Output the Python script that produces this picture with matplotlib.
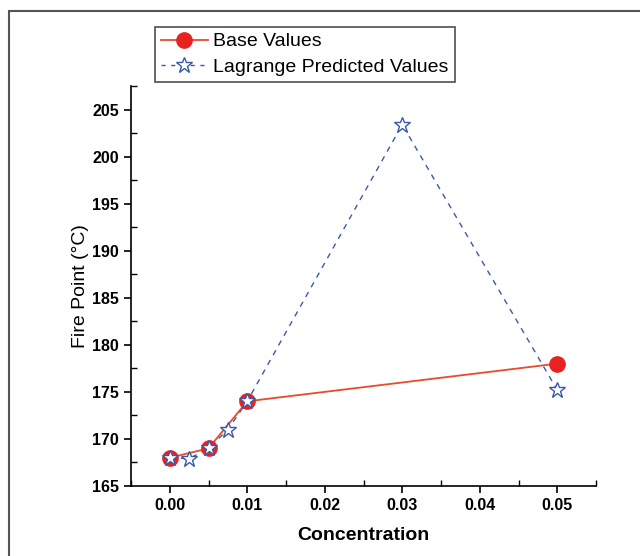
import matplotlib.pyplot as plt
from matplotlib.ticker import MultipleLocator
from matplotlib.patches import Rectangle
from matplotlib.lines import Line2D

# data
base_x = [0.0, 0.005, 0.01, 0.05]
base_y = [168, 169, 174, 178]
lag_x = [0.0, 0.0025, 0.005, 0.0075, 0.01, 0.03, 0.05]
lag_y = [168, 167.9, 169, 171, 174, 203.4, 175.2]

plt.rcParams['font.family'] = ['Liberation Sans', 'DejaVu Sans']

fig = plt.figure(figsize=(6.4, 5.56), dpi=100)
ax = fig.add_axes([131 / 640, 1 - 486 / 556, (596 - 131) / 640, (486 - 86) / 556])

# outer frame (top and left edges only visible)
fig.patches.append(Rectangle((9 / 640, -0.1), 1.2, 1 - 11 / 556 + 0.1,
                             transform=fig.transFigure, fill=False,
                             edgecolor='#555555', linewidth=1.5))

red = '#e8231f'
line_red = '#e84a2c'
blue = '#3a5aa8'

ax.plot(lag_x, lag_y, linestyle=(0, (4, 4)), color=blue, linewidth=1.0, zorder=2)
ax.plot(base_x, base_y, color=line_red, linewidth=1.3, zorder=3)
ax.plot(base_x, base_y, linestyle='none', marker='o', markersize=11,
        color=red, zorder=4)
ax.plot(lag_x, lag_y, linestyle='none', marker='*', markersize=12,
        markerfacecolor='white', markeredgecolor=blue, markeredgewidth=1.0,
        zorder=5)

ax.set_xlim(-0.005, 0.055)
ax.set_ylim(165, 207.5)
ax.xaxis.set_minor_locator(MultipleLocator(0.005))
ax.yaxis.set_major_locator(MultipleLocator(5))
ax.yaxis.set_minor_locator(MultipleLocator(2.5))
ax.set_xticks([0, 0.01, 0.02, 0.03, 0.04, 0.05])
ax.set_xticklabels(['0.00', '0.01', '0.02', '0.03', '0.04', '0.05'])

for s in ['top', 'right']:
    ax.spines[s].set_visible(False)
for s in ['left', 'bottom']:
    ax.spines[s].set_linewidth(1.2)

ax.tick_params(which='major', direction='out', length=5, width=1.2,
               labelsize=11.5)
ax.tick_params(which='minor', direction='in', length=4, width=1.0)
for lbl in ax.get_xticklabels() + ax.get_yticklabels():
    lbl.set_fontweight('bold')

ax.set_xlabel('Concentration', fontsize=14, fontweight='bold', labelpad=10)
ax.set_ylabel('Fire Point (°C)', fontsize=14, labelpad=2)

handles = [
    Line2D([], [], color=line_red, linewidth=1.3, marker='o', markersize=11,
           markerfacecolor=red, markeredgecolor=red),
    Line2D([], [], color=blue, linestyle=(0, (3, 4)), linewidth=1.0,
           marker='*', markersize=12, markerfacecolor='white',
           markeredgecolor=blue),
]
leg = fig.legend(handles, ['Base Values', 'Lagrange Predicted Values'],
                 loc='upper left', bbox_to_anchor=(155 / 640, 1 - 27 / 556),
                 fontsize=14, frameon=True, fancybox=False, borderpad=0.3,
                 handlelength=2.4, handletextpad=0.3, labelspacing=0.4,
                 borderaxespad=0)
leg.get_frame().set_edgecolor('#222222')
leg.get_frame().set_linewidth(1.2)

fig.savefig('out.png', dpi=100)
